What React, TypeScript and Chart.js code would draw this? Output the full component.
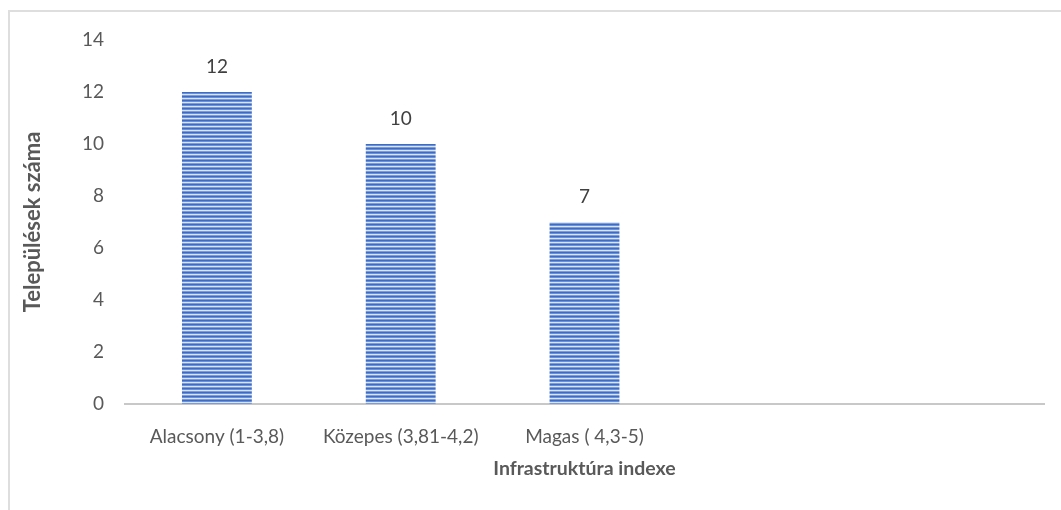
import React, { useEffect, useRef } from "react";
import { Chart, registerables } from "chart.js";

Chart.register(...registerables);

const categories: string[] = ["Alacsony (1-3,8)", "Közepes (3,81-4,2)", "Magas ( 4,3-5)", "", ""];
const counts: (number | null)[] = [12, 10, 7, null, null];
const yTitle = "Települések száma";
const xTitle = "Infrastruktúra indexe";

const FONT = "Lato, 'Open Sans', sans-serif";

function makePattern(): CanvasPattern | string {
  const c = document.createElement("canvas");
  c.width = 4;
  c.height = 4;
  const g = c.getContext("2d");
  if (!g) return "#4472C4";
  const rows = ["#3d6cc6", "#6a90d6", "#dbe4f5", "#7a9cdb"];
  rows.forEach((col, i) => {
    g.fillStyle = col;
    g.fillRect(0, i, 4, 1);
  });
  const p = g.createPattern(c, "repeat");
  return p || "#4472C4";
}

const valueLabels = {
  id: "valueLabels",
  afterDatasetsDraw(chart: any) {
    const ctx = chart.ctx;
    const meta = chart.getDatasetMeta(0);
    ctx.save();
    ctx.font = `19px ${FONT}`;
    ctx.fillStyle = "#404040";
    ctx.textAlign = "center";
    ctx.textBaseline = "middle";
    meta.data.forEach((el: any, i: number) => {
      const v = chart.data.datasets[0].data[i];
      if (v === null || v === undefined) return;
      ctx.fillText(String(v), el.x, el.y - 25);
    });
    ctx.restore();
  },
};

export default function App() {
  const ref = useRef<HTMLCanvasElement>(null);
  useEffect(() => {
    if (!ref.current) return;
    const chart = new Chart(ref.current, {
      type: "bar",
      data: {
        labels: categories,
        datasets: [
          {
            data: counts,
            backgroundColor: makePattern() as any,
            borderWidth: 0,
            categoryPercentage: 1,
            barPercentage: 0.38,
          },
        ],
      },
      options: {
        animation: false,
        responsive: false,
        devicePixelRatio: 1,
        layout: { padding: { left: 20, right: 17, top: 40, bottom: 30 } },
        plugins: { legend: { display: false }, tooltip: { enabled: false } },
        scales: {
          x: {
            grid: { display: false, drawTicks: false },
            border: { display: true, color: "#c8c8c8", width: 2 },
            ticks: { color: "#595959", font: { family: FONT, size: 19 }, padding: 21, maxRotation: 0, autoSkip: false },
            title: { display: true, text: xTitle, color: "#595959", font: { family: FONT, size: 19.5, weight: "bold" }, padding: 0 },
            afterFit: (s: any) => {
              s.height = 76;
            },
          },
          y: {
            min: 0,
            max: 14,
            ticks: { stepSize: 2, color: "#595959", font: { family: FONT, size: 19 }, padding: 21 },
            grid: { display: false, drawTicks: false },
            border: { display: false },
            title: { display: true, text: yTitle, color: "#595959", font: { family: FONT, size: 22, weight: "bold" }, padding: 0 },
            afterFit: (s: any) => {
              s.width = 105;
            },
          },
        },
      },
      plugins: [valueLabels],
    });
    return () => chart.destroy();
  }, []);
  return (
    <div style={{ position: "fixed", left: 0, top: 0, width: 1061, height: 510, background: "#fff", overflow: "hidden" }}>
      <div
        style={{
          position: "absolute",
          left: 8,
          top: 10,
          width: 1070,
          height: 520,
          borderLeft: "2px solid #dedede",
          borderTop: "2px solid #dedede",
        }}
      />
      <canvas ref={ref} width={1061} height={510} style={{ position: "absolute", left: 0, top: 0, width: 1061, height: 510 }} />
    </div>
  );
}
